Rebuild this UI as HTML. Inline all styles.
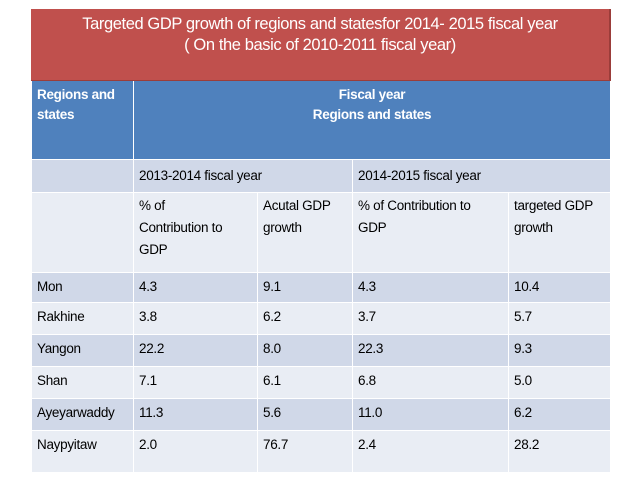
<!DOCTYPE html>
<html><head><meta charset="utf-8"><style>
body{margin:0;width:638px;height:479px;background:#fff;position:relative;overflow:hidden;font-family:"Liberation Sans",sans-serif;}
.c{position:absolute;box-sizing:border-box;font-size:13.5px;color:#000;padding:6px 0 0 5px;line-height:20px;letter-spacing:-0.3px}
.d{background:#D0D8E8}.l{background:#E9EDF4}
.b{background:#4F81BD;color:#fff;font-weight:bold}
</style></head><body>
<div style="position:absolute;left:31px;top:9px;width:580px;height:72px;background:#C0504D;border-right:2px solid #9b3d3a;border-bottom:1px solid #9b3d3a;box-sizing:border-box;color:#fff;text-align:center;font-size:16.5px;line-height:21px;padding-top:5px;letter-spacing:-0.4px">
<div>Targeted GDP growth of regions and statesfor 2014- 2015 fiscal year</div>
<div>( On the basic of 2010-2011 fiscal year)</div>
</div>
<div id="t"></div>
<script>
var cols=[32,134,258,353,509,610];
var rows=[81,160,193,273,303,335,367,399,431,473];
var t=document.getElementById('t');
function cell(x0,x1,r0,r1,cls,html,name,extra){
  var d=document.createElement('div');
  d.className='c '+cls;
  d.style.left=cols[x0]+'px';d.style.width=(cols[x1]-cols[x0]-(x1<5?1:0))+'px';
  d.style.top=rows[r0]+'px';d.style.height=(rows[r1]-rows[r0]-1)+'px';
  if(extra)d.style.cssText+=extra;
  d.innerHTML=html;
  
  
  t.appendChild(d);
}
cell(0,1,0,1,'b','Regions and<br>states','header-regions','padding-top:4px;');
cell(1,5,0,1,'b','Fiscal year<br>Regions and states','header-fiscal-year','text-align:center;padding-top:4px;padding-left:0;');
cell(0,1,1,2,'d','','fy-row-blank');
cell(1,3,1,2,'d','2013-2014 fiscal year','fy-2013-2014');
cell(3,5,1,2,'d','2014-2015 fiscal year','fy-2014-2015');
cell(0,1,2,3,'l','','sub-row-blank');
cell(1,2,2,3,'l','% of<br>Contribution to<br>GDP','sub-contrib-2013','padding-top:2px;line-height:22px;');
cell(2,3,2,3,'l','Acutal GDP<br>growth','sub-actual-growth','padding-top:2px;line-height:22px;');
cell(3,4,2,3,'l','% of Contribution to<br>GDP','sub-contrib-2014','padding-top:2px;line-height:22px;');
cell(4,5,2,3,'l','targeted GDP<br>growth','sub-targeted-growth','padding-top:2px;line-height:22px;');
var regions=['Mon','Rakhine','Yangon','Shan','Ayeyarwaddy','Naypyitaw'];
var contrib13=['4.3','3.8','22.2','7.1','11.3','2.0'];
var actual13=['9.1','6.2','8.0','6.1','5.6','76.7'];
var contrib14=['4.3','3.7','22.3','6.8','11.0','2.4'];
var target14=['10.4','5.7','9.3','5.0','6.2','28.2'];
for(var i=0;i<regions.length;i++){
  var cl=i%2==0?'d':'l';
  var vals=[regions[i],contrib13[i],actual13[i],contrib14[i],target14[i]];
  for(var j=0;j<5;j++){
    cell(j,j+1,3+i,4+i,cl,vals[j],'cell-'+regions[i].toLowerCase()+'-'+j,'padding-top:4px;');
  }
}
</script>
</body></html>
